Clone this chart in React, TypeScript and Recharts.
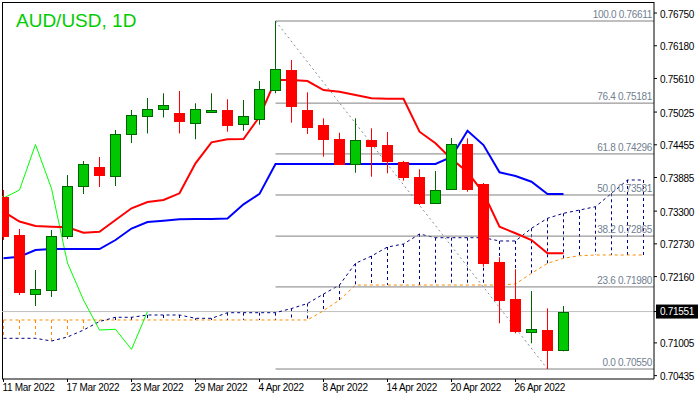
import React from "react";
import { ComposedChart, Bar, Line, XAxis, YAxis, ReferenceLine } from "recharts";

// x tick labels, every 4th daily bar
const DATE_TICKS = [0, 4, 8, 12, 16, 20, 24, 28, 32];
const DATE_LABELS = [
  "11 Mar 2022", "17 Mar 2022", "23 Mar 2022", "29 Mar 2022", "4 Apr 2022",
  "8 Apr 2022", "14 Apr 2022", "20 Apr 2022", "26 Apr 2022",
];

// daily candles, bar 0 = 11 Mar 2022
const OPEN = [
  0.73546, 0.72884, 0.71865, 0.71926, 0.72858, 0.73729, 0.74068, 0.73912, 0.74643, 0.74948,
  0.75087, 0.75009, 0.74826, 0.75021, 0.75061, 0.74812, 0.74899, 0.75404, 0.75752, 0.75061,
  0.748, 0.74556, 0.74115, 0.74539, 0.74446, 0.74155, 0.73894, 0.73447, 0.7368, 0.74464,
  0.73772, 0.72409, 0.71764, 0.71189, 0.71224, 0.70886,
];
const HIGH = [
  0.73668, 0.72989, 0.72274, 0.72971, 0.73929, 0.74173, 0.74242, 0.74713, 0.75061, 0.7527,
  0.75352, 0.75392, 0.75178, 0.75352, 0.75247, 0.75235, 0.75566, 0.76611, 0.75932, 0.75369,
  0.74916, 0.74666, 0.74916, 0.74742, 0.74678, 0.74173, 0.74028, 0.73999, 0.74573, 0.74568,
  0.7379, 0.72496, 0.72287, 0.71909, 0.71607, 0.71647,
];
const LOW = [
  0.72797, 0.71839, 0.71647, 0.71804, 0.72814, 0.73598, 0.7372, 0.73737, 0.74486, 0.74652,
  0.7493, 0.74652, 0.74551, 0.75009, 0.74683, 0.747, 0.74805, 0.75352, 0.7484, 0.74643,
  0.74248, 0.74112, 0.73969, 0.73899, 0.73959, 0.7383, 0.73407, 0.73424, 0.73668, 0.73638,
  0.72332, 0.71346, 0.71172, 0.70998, 0.7055, 0.70859,
];
const CLOSE = [
  0.72867, 0.71891, 0.71944, 0.72867, 0.73737, 0.74112, 0.73929, 0.74643, 0.74974, 0.75087,
  0.75143, 0.74875, 0.75078, 0.75061, 0.74805, 0.74951, 0.75421, 0.7577, 0.75136, 0.7477,
  0.74556, 0.74121, 0.74533, 0.74439, 0.74168, 0.73899, 0.73447, 0.73668, 0.74464, 0.7369,
  0.72402, 0.71757, 0.71217, 0.71242, 0.70886, 0.71551,
];

// Ichimoku
const TENKAN = [
  0.7329, 0.73119, 0.73041, 0.73028, 0.73018, 0.72924, 0.72941, 0.73145, 0.73349, 0.73459,
  0.73494, 0.7361, 0.74133, 0.74498, 0.74551, 0.74556, 0.74944, 0.75584, 0.75584, 0.75566,
  0.75409, 0.7538, 0.75322, 0.75265, 0.75258, 0.75258, 0.74683, 0.74481, 0.74208, 0.73981,
  0.73615, 0.73028, 0.72914, 0.72797, 0.72565, 0.72565,
];
const KIJUN = [
  0.72478, 0.72506, 0.72623, 0.7264, 0.7264, 0.7264, 0.7264, 0.72797, 0.72997, 0.7311,
  0.73133, 0.73157, 0.73163, 0.73163, 0.73172, 0.73419, 0.736, 0.74121, 0.74121, 0.74121,
  0.74121, 0.74121, 0.74121, 0.74121, 0.74121, 0.74121, 0.74121, 0.74121, 0.74242, 0.747,
  0.74451, 0.73976, 0.73912, 0.73812, 0.73598, 0.73598,
];
// chikou starts one bar before the first candle
const CHIKOU_START = -1;
const CHIKOU = [
  0.73894, 0.73528, 0.73668, 0.7446, 0.73694, 0.72396, 0.71752, 0.71229, 0.71242, 0.70893, 0.71551,
];
const SPAN_A = [
  0.71404, 0.71404, 0.71404, 0.71404, 0.71404, 0.71404, 0.71404, 0.71404, 0.71404, 0.71404,
  0.71404, 0.71404, 0.71404, 0.71404, 0.71404, 0.71404, 0.71404, 0.71404, 0.71404, 0.71404,
  0.71566, 0.71752, 0.72013, 0.72013, 0.72013, 0.72013, 0.72013, 0.72013, 0.72013, 0.72013,
  0.72013, 0.72013, 0.72031, 0.72217, 0.72391, 0.72478, 0.72524, 0.72536, 0.72536, 0.72536,
  0.72536,
];
const SPAN_B = [
  0.71085, 0.71085, 0.71085, 0.71038, 0.71108, 0.71229, 0.71378, 0.71451, 0.71451, 0.71491,
  0.71491, 0.71491, 0.71433, 0.71433, 0.71531, 0.71531, 0.71531, 0.71531, 0.71604, 0.71691,
  0.71856, 0.72013, 0.72391, 0.72518, 0.72675, 0.72727, 0.72901, 0.72837, 0.72837, 0.72837,
  0.72837, 0.7278, 0.7278, 0.73001, 0.73175, 0.73262, 0.73319, 0.73377, 0.7361, 0.73842,
  0.73842,
];

// Fibonacci retracement from the 5 Apr high to the 28 Apr low
const FIB_FROM = 17;
const FIB_TO = 34;
const FIB_LEVELS = ["100.0", "76.4", "61.8", "50.0", "38.2", "23.6", "0.0"];
const FIB_PRICES = [0.76611, 0.75181, 0.74296, 0.73581, 0.72865, 0.7198, 0.7055];

const PRICE_TICKS = [0.7675, 0.7618, 0.7561, 0.75025, 0.74455, 0.73885, 0.733, 0.7273, 0.7216, 0.71005, 0.70435];
const LAST_PRICE = 0.71551;

const X_MIN = -0.09375;
const X_MAX = 40.65625;
const Y_MIN = 0.703763;
const Y_MAX = 0.769419;

const ORANGE = "#ff8c00";
const NAVY = "#000080";
const FONT = "'Liberation Sans', Arial, sans-serif";

const data: any[] = [];
for (let i = -1; i <= 40; i++) {
  const row: any = { i };
  if (i >= 0 && i < OPEN.length) {
    row.open = OPEN[i];
    row.high = HIGH[i];
    row.low = LOW[i];
    row.close = CLOSE[i];
    row.tenkan = TENKAN[i];
    row.kijun = KIJUN[i];
  }
  const c = i - CHIKOU_START;
  if (c >= 0 && c < CHIKOU.length) row.chikou = CHIKOU[c];
  if (i >= 0 && i < SPAN_A.length) {
    row.spanA = SPAN_A[i];
    row.spanB = SPAN_B[i];
  }
  if (i === FIB_FROM) row.fibDiag = FIB_PRICES[0];
  if (i === FIB_TO) row.fibDiag = FIB_PRICES[FIB_PRICES.length - 1];
  data.push(row);
}

const CandleShape = (props: any) => {
  const { x, y, width, height, payload } = props;
  if (!payload || payload.open == null) return null;
  const { open, close, high, low } = payload;
  const cx = Math.floor(x + width / 2) + 0.5;
  const k = high > low ? height / (high - low) : 0;
  const yOpen = y + (high - open) * k;
  const yClose = y + (high - close) * k;
  const up = close >= open;
  const top = Math.round(Math.min(yOpen, yClose)) + 0.5;
  const bottom = Math.max(Math.round(Math.max(yOpen, yClose)) + 0.5, top + 1);
  const edge = up ? "#006400" : "#ff0000";
  const fill = up ? "#00c800" : "#ff0000";
  return (
    <g>
      <line x1={cx} x2={cx} y1={y} y2={y + height} stroke={edge} />
      <rect x={cx - 5} y={top} width={10} height={bottom - top} fill={fill} stroke={edge} />
    </g>
  );
};

const HatchShape = (props: any) => {
  const { x, y, width, height, payload } = props;
  if (!payload || payload.spanA == null || !height) return null;
  const cx = Math.floor(x + width / 2) + 0.5;
  const color = payload.spanA >= payload.spanB ? ORANGE : NAVY;
  return <line x1={cx} x2={cx} y1={y} y2={y + height} stroke={color} strokeDasharray="3 3" />;
};

const DateTick = (props: any) => {
  const { x, y, payload } = props;
  const label = DATE_LABELS[DATE_TICKS.indexOf(payload.value)];
  return (
    <text x={x - 1} y={y} dy="0.71em" textAnchor="start" fill="#000" fontSize={10} fontFamily={FONT} letterSpacing={-0.3}>
      {label}
    </text>
  );
};

const PriceTick = (props: any) => {
  const { x, y, payload } = props;
  const v = payload.value;
  if (v === LAST_PRICE) {
    return (
      <g>
        <rect x={656} y={y - 7} width={42} height={14} fill="#000" />
        <text x={x} y={y} dy={3.5} fill="#fff" fontSize={10} fontFamily={FONT} letterSpacing={-0.3}>
          {v.toFixed(5)}
        </text>
      </g>
    );
  }
  return (
    <text x={x} y={y} dy={4.5} fill="#000" fontSize={10} fontFamily={FONT} letterSpacing={-0.3}>
      {v.toFixed(5)}
    </text>
  );
};

const fibLabel = (text: string) => (props: any) => {
  const vb = props.viewBox || {};
  return (
    <text
      x={vb.x + vb.width - 2}
      y={vb.y - 3}
      textAnchor="end"
      fill="#708090"
      fontSize={10}
      fontFamily={FONT}
      letterSpacing={-0.3}
    >
      {text}
    </text>
  );
};

export default function App() {
  return (
    <div style={{ position: "absolute", left: 0, top: 0, width: 698, height: 397, background: "#fff" }}>
      <ComposedChart width={698} height={397} data={data} margin={{ top: 2, right: 0, bottom: 0, left: 2 }}>
        <XAxis
          type="number"
          dataKey="i"
          domain={[X_MIN, X_MAX]}
          allowDataOverflow
          ticks={DATE_TICKS}
          interval={0}
          height={18}
          tickSize={3}
          tickMargin={2}
          tick={<DateTick />}
          axisLine={{ stroke: "#000" }}
          tickLine={{ stroke: "#000" }}
        />
        <XAxis xAxisId="hatch" hide type="number" dataKey="i" domain={[X_MIN, X_MAX]} allowDataOverflow />
        <YAxis
          orientation="right"
          type="number"
          domain={[Y_MIN, Y_MAX]}
          allowDataOverflow
          ticks={[...PRICE_TICKS, LAST_PRICE]}
          interval={0}
          width={44}
          tickSize={3}
          tickMargin={3}
          tick={<PriceTick />}
          axisLine={{ stroke: "#000" }}
          tickLine={{ stroke: "#000" }}
        />

        <ReferenceLine x={X_MIN + 0.5 / 16} stroke="#000" />
        <ReferenceLine y={Y_MAX - 0.5 / 5742} stroke="#000" />
        <ReferenceLine y={LAST_PRICE} stroke="#c0c0c0" />

        <Bar
          xAxisId="hatch"
          dataKey={(d: any) => (d.spanA != null ? [Math.min(d.spanA, d.spanB), Math.max(d.spanA, d.spanB)] : null)}
          barSize={1}
          shape={<HatchShape />}
          isAnimationActive={false}
          zIndex={50}
        />
        <Line dataKey="spanA" stroke={ORANGE} strokeWidth={1} strokeDasharray="3 3" dot={false} isAnimationActive={false} />
        <Line dataKey="spanB" stroke={NAVY} strokeWidth={1} strokeDasharray="3 3" dot={false} isAnimationActive={false} />

        {FIB_PRICES.map((p, k) => (
          <ReferenceLine
            key={FIB_LEVELS[k]}
            segment={[{ x: FIB_FROM, y: p }, { x: X_MAX, y: p }]}
            stroke="#808080"
            label={fibLabel(`${FIB_LEVELS[k]} ${p.toFixed(5)}`)}
          />
        ))}
        <Line dataKey="fibDiag" connectNulls stroke="#8090a0" strokeDasharray="2 3" dot={false} isAnimationActive={false} />

        <Line dataKey="chikou" stroke="#00ff00" strokeWidth={1} dot={false} isAnimationActive={false} />
        <Line dataKey="tenkan" stroke="#ff0000" strokeWidth={2} dot={false} isAnimationActive={false} />
        <Line dataKey="kijun" stroke="#0000ff" strokeWidth={2} dot={false} isAnimationActive={false} />

        <Bar
          dataKey={(d: any) => (d.open != null ? [d.low, d.high] : null)}
          barSize={11}
          shape={<CandleShape />}
          isAnimationActive={false}
          zIndex={450}
        />
      </ComposedChart>
      <div
        style={{
          position: "absolute",
          left: 16,
          top: 11,
          fontFamily: FONT,
          fontSize: 19,
          lineHeight: "19px",
          color: "#00cc00",
        }}
      >
        AUD/USD, 1D
      </div>
    </div>
  );
}
